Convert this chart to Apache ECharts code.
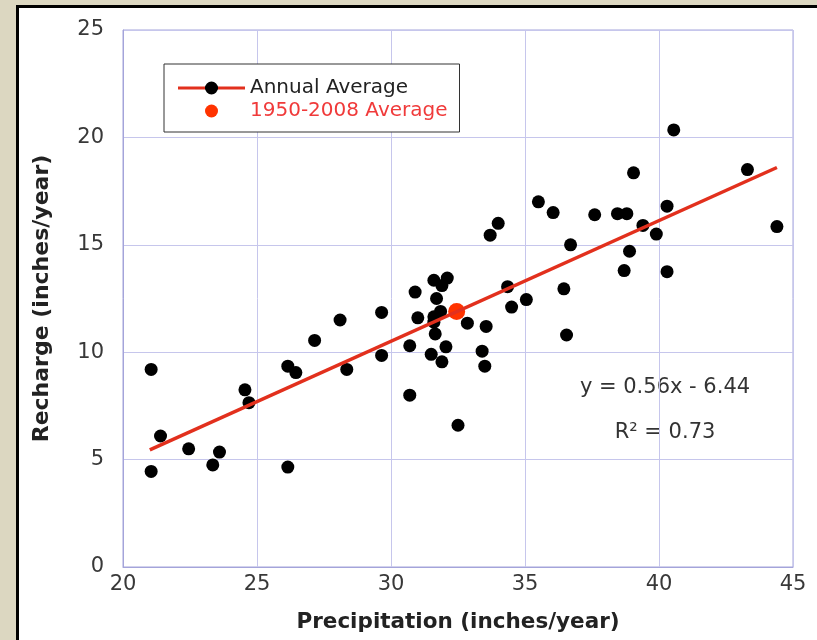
<!DOCTYPE html>
<html>
<head>
<meta charset="utf-8">
<title>Recharge vs Precipitation</title>
<script src="https://cdn.jsdelivr.net/npm/echarts@6.0.0/dist/echarts.min.js"></script>
<style>
  html, body { margin: 0; padding: 0; }
  body { position: relative; width: 817px; height: 640px; overflow: hidden; background: #dcd7c1; }
  /* white panel with the black frame on top/left */
  #frame { position: absolute; left: 16px; top: 5px; width: 840px; height: 680px; background: #fff;
           border-left: 3px solid #000; border-top: 3px solid #000; }
  #chart { position: absolute; left: 0; top: 0; width: 817px; height: 640px; }
</style>
</head>
<body>
<div id="frame"></div>
<div id="chart"></div>
<script>
// annual values 1950-2008 (inches/year)
const precipitation = [21.05, 21.05, 21.4, 22.45, 23.35, 23.6, 24.55, 24.7, 26.15, 26.15,
  26.45, 27.15, 28.1, 28.35, 29.65, 29.65, 30.7, 30.7, 30.9, 31.0,
  31.6, 32.1, 31.9, 31.7, 31.85, 31.6, 31.6, 31.65, 32.05, 31.5,
  31.9, 32.85, 32.5, 33.4, 33.5, 33.55, 33.7, 34.0, 34.35, 34.5,
  35.05, 35.5, 36.05, 36.45, 36.55, 36.7, 37.6, 38.45, 38.8, 38.7,
  38.9, 39.05, 39.4, 39.9, 40.3, 40.3, 40.55, 43.3, 44.4];
const recharge = [9.2, 4.45, 6.1, 5.5, 4.75, 5.35, 8.25, 7.65, 9.35, 4.65,
  9.05, 10.55, 11.5, 9.2, 11.85, 9.85, 10.3, 8.0, 12.8, 11.6,
  13.35, 13.45, 13.1, 12.5, 11.9, 11.65, 11.4, 10.85, 10.25, 9.9,
  9.55, 11.35, 6.6, 10.05, 9.35, 11.2, 15.45, 16.0, 13.05, 12.1,
  12.45, 17.0, 16.5, 12.95, 10.8, 15.0, 16.4, 16.45, 16.45, 13.8,
  14.7, 18.35, 15.9, 15.5, 16.8, 13.75, 20.35, 18.5, 15.85];

// 1950-2008 average point
const averagePrecip = [32.45];
const averageRecharge = [11.9];

// fitted line end points as drawn
const trendX = [21.0, 44.4];
const trendY = [5.45, 18.6];

// axis ticks
const xTicks = [20, 25, 30, 35, 40, 45];
const yTicks = [0, 5, 10, 15, 20, 25];

const equationText = 'y = 0.56x - 6.44';
const r2Text = 'R\u00B2 = 0.73';

const annualData = precipitation.map((p, i) => [p, recharge[i]]);
const averageData = averagePrecip.map((p, i) => [p, averageRecharge[i]]);
const trendData = trendX.map((x, i) => [x, trendY[i]]);

const font = '"DejaVu Sans", "Liberation Sans", sans-serif';
const gridColor = '#c6c6ec';
const borderColor = '#a4a4da';
const lineRed = '#e2301d';
const dotRed = '#ff3300';

// legend icon: red line with a black dot in the middle (gradient does the two colours)
const lineDotIcon = 'path://M0,5 L27.5,5 L27.5,8 L0,8 Z M39.5,5 L67,5 L67,8 L39.5,8 Z M27,6.5 A6.5,6.5 0 1 1 40,6.5 A6.5,6.5 0 1 1 27,6.5 Z';

const chart = echarts.init(document.getElementById('chart'));

const option = {
  backgroundColor: 'transparent',
  animation: false,
  grid: {
    left: 123, right: 24, top: 30, bottom: 73,
    show: true,
    borderColor: borderColor,
    borderWidth: 1,
    outerBoundsMode: 'none'
  },
  legend: {
    orient: 'vertical',
    left: 164, top: 64,
    padding: [14, 12, 11, 14],
    itemGap: 3,
    itemWidth: 67,
    itemHeight: 13,
    backgroundColor: '#fff',
    borderColor: '#333',
    borderWidth: 1,
    borderRadius: 0,
    selectedMode: false,
    textStyle: { fontFamily: font, fontSize: 20, lineHeight: 20, color: '#222' },
    data: [
      {
        name: 'Annual Average',
        icon: lineDotIcon,
        itemStyle: {
          color: new echarts.graphic.LinearGradient(0, 0, 1, 0, [
            { offset: 0, color: lineRed },
            { offset: 0.403, color: lineRed },
            { offset: 0.403, color: '#000' },
            { offset: 0.597, color: '#000' },
            { offset: 0.597, color: lineRed },
            { offset: 1, color: lineRed }
          ])
        }
      },
      {
        name: '1950-2008 Average',
        icon: 'circle',
        itemStyle: { color: dotRed },
        textStyle: { color: '#f03a3a' }
      }
    ]
  },
  xAxis: {
    type: 'value',
    min: xTicks[0],
    max: xTicks[xTicks.length - 1],
    interval: xTicks[1] - xTicks[0],
    name: 'Precipitation (inches/year)',
    nameLocation: 'middle',
    nameGap: 44,
    nameMoveOverlap: false,
    nameTextStyle: { fontFamily: font, fontSize: 21.5, fontWeight: 'bold', color: '#222' },
    axisLine: { show: true, lineStyle: { color: borderColor, width: 1 } },
    axisTick: { show: false },
    axisLabel: { fontFamily: font, fontSize: 21, color: '#383838', margin: 7 },
    splitLine: { show: true, lineStyle: { color: gridColor, width: 1 } }
  },
  yAxis: {
    type: 'value',
    min: yTicks[0],
    max: yTicks[yTicks.length - 1],
    interval: yTicks[1] - yTicks[0],
    name: 'Recharge (inches/year)',
    nameLocation: 'middle',
    nameRotate: 90,
    nameGap: 70,
    nameMoveOverlap: false,
    nameTextStyle: { fontFamily: font, fontSize: 22, fontWeight: 'bold', color: '#222' },
    axisLine: { show: true, lineStyle: { color: borderColor, width: 1 } },
    axisTick: { show: false },
    axisLabel: { fontFamily: font, fontSize: 21, color: '#383838', margin: 19 },
    splitLine: { show: true, lineStyle: { color: gridColor, width: 1 } }
  },
  series: [
    {
      // regression line
      name: 'Trend',
      type: 'line',
      data: trendData,
      symbol: 'none',
      lineStyle: { color: lineRed, width: 3.5 },
      silent: true
    },
    {
      name: 'Annual Average',
      type: 'scatter',
      data: annualData,
      symbolSize: 13,
      itemStyle: { color: '#000', opacity: 1 }
    },
    {
      name: '1950-2008 Average',
      type: 'scatter',
      data: averageData,
      symbolSize: 17,
      itemStyle: { color: dotRed, opacity: 1 }
    }
  ],
  graphic: [
    {
      type: 'text',
      x: 665, y: 388,
      style: {
        text: equationText,
        font: '21px ' + font,
        fill: '#333',
        align: 'center',
        verticalAlign: 'middle'
      }
    },
    {
      type: 'text',
      x: 665, y: 433,
      style: {
        text: r2Text,
        font: '21px ' + font,
        fill: '#333',
        align: 'center',
        verticalAlign: 'middle'
      }
    }
  ]
};

chart.setOption(option);
</script>
</body>
</html>
